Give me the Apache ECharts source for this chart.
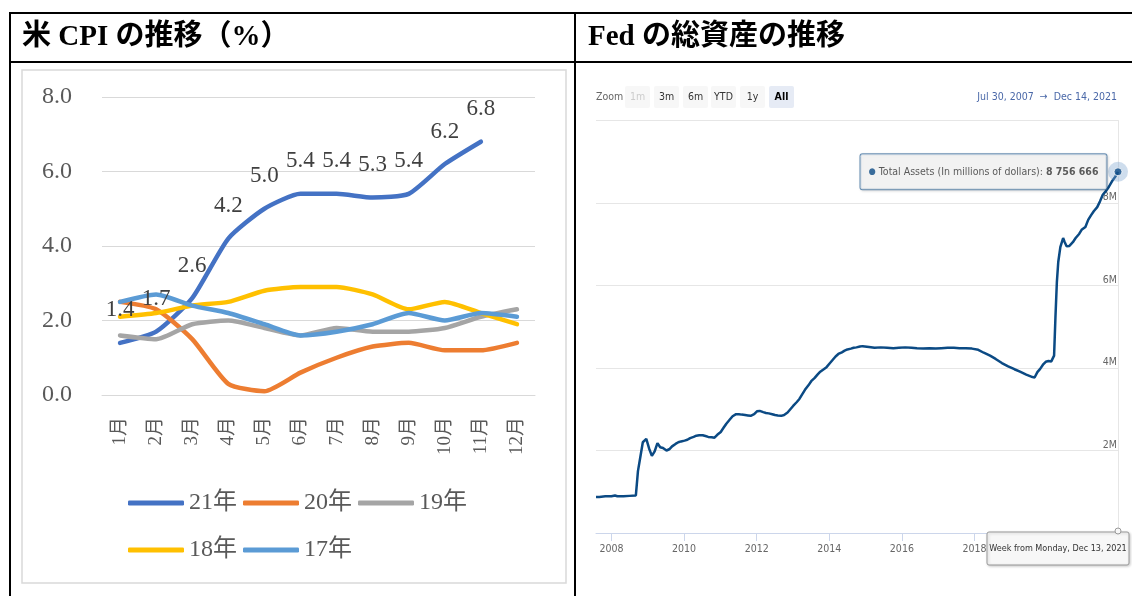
<!DOCTYPE html>
<html>
<head>
<meta charset="utf-8">
<title>米 CPI の推移 / Fed の総資産の推移</title>
<script src="https://cdn.jsdelivr.net/npm/echarts@6/dist/echarts.min.js"></script>
<style>
  html, body { margin: 0; padding: 0; background: #fff; }
  #main { width: 1132px; height: 596px; }
</style>
</head>
<body>
<div id="main"></div>
<script>
// 米 CPI（前年比 %）
var months = ['1月', '2月', '3月', '4月', '5月', '6月', '7月', '8月', '9月', '10月', '11月', '12月'];
var cpi21 = [1.4, 1.7, 2.6, 4.2, 5.0, 5.4, 5.4, 5.3, 5.4, 6.2, 6.8, null];
var cpi20 = [2.5, 2.3, 1.5, 0.3, 0.1, 0.6, 1.0, 1.3, 1.4, 1.2, 1.2, 1.4];
var cpi19 = [1.6, 1.5, 1.9, 2.0, 1.8, 1.6, 1.8, 1.7, 1.7, 1.8, 2.1, 2.3];
var cpi18 = [2.1, 2.2, 2.4, 2.5, 2.8, 2.9, 2.9, 2.7, 2.3, 2.5, 2.2, 1.9];
var cpi17 = [2.5, 2.7, 2.4, 2.2, 1.9, 1.6, 1.7, 1.9, 2.2, 2.0, 2.2, 2.1];

// Fed 総資産（百万ドル）
var fedDates = [
  '2007-07-30', '2007-09-01', '2007-11-01', '2008-01-01', '2008-02-06', '2008-03-01', '2008-05-01', '2008-07-01', '2008-09-03',
  '2008-09-24', '2008-10-15', '2008-11-12', '2008-12-17',
  '2009-01-14', '2009-02-11', '2009-03-11', '2009-04-08', '2009-05-06', '2009-06-03', '2009-07-08', '2009-08-05', '2009-09-02', '2009-10-07', '2009-11-04', '2009-12-02',
  '2010-01-06', '2010-02-03', '2010-03-03', '2010-04-07', '2010-05-05', '2010-06-02', '2010-07-07', '2010-08-04', '2010-09-01', '2010-10-06', '2010-11-03', '2010-12-01',
  '2011-01-05', '2011-02-02', '2011-03-02', '2011-04-06', '2011-05-04', '2011-06-08', '2011-07-06', '2011-08-03', '2011-09-07', '2011-10-05', '2011-11-02', '2011-12-07',
  '2012-01-04', '2012-02-01', '2012-03-07', '2012-04-04', '2012-05-02', '2012-06-06', '2012-07-04', '2012-08-01', '2012-09-05', '2012-10-03', '2012-11-07', '2012-12-05',
  '2013-01-02', '2013-02-06', '2013-03-06', '2013-04-03', '2013-05-01', '2013-06-05', '2013-07-03', '2013-08-07', '2013-09-04', '2013-10-02', '2013-11-06', '2013-12-04',
  '2014-01-08', '2014-02-05', '2014-03-05', '2014-04-02', '2014-05-07', '2014-06-04', '2014-07-02', '2014-08-06', '2014-09-03', '2014-10-01', '2014-11-05', '2014-12-03',
  '2015-02-04', '2015-04-01', '2015-06-03', '2015-08-05', '2015-10-07', '2015-12-02',
  '2016-02-03', '2016-04-06', '2016-06-01', '2016-08-03', '2016-10-05', '2016-12-07',
  '2017-02-01', '2017-04-05', '2017-06-07', '2017-08-02', '2017-10-04', '2017-12-06',
  '2018-02-07', '2018-04-04', '2018-06-06', '2018-08-01', '2018-10-03', '2018-12-05',
  '2019-02-06', '2019-04-03', '2019-06-05', '2019-08-07', '2019-08-28', '2019-09-25', '2019-10-23', '2019-11-20', '2019-12-18',
  '2020-01-15', '2020-02-12', '2020-03-11', '2020-03-25', '2020-04-08', '2020-04-22', '2020-05-13', '2020-06-10', '2020-06-24', '2020-07-15', '2020-08-12', '2020-09-16', '2020-10-14', '2020-11-18', '2020-12-16',
  '2021-01-20', '2021-02-17', '2021-03-17', '2021-04-14', '2021-05-19', '2021-06-16', '2021-07-14', '2021-08-18', '2021-09-15', '2021-10-13', '2021-11-17', '2021-12-14'
];
var fedValues = [
  870000, 875000, 888000, 890000, 910000, 892000, 890000, 900000, 910000,
  1500000, 1800000, 2200000, 2280000,
  2050000, 1870000, 1980000, 2180000, 2080000, 2060000, 2000000, 2030000, 2100000, 2160000, 2200000, 2220000,
  2240000, 2260000, 2300000, 2330000, 2360000, 2370000, 2370000, 2350000, 2330000, 2320000, 2310000, 2380000,
  2450000, 2550000, 2650000, 2750000, 2830000, 2880000, 2880000, 2870000, 2860000, 2850000, 2840000, 2880000,
  2950000, 2960000, 2930000, 2910000, 2900000, 2880000, 2860000, 2850000, 2840000, 2860000, 2920000, 3000000,
  3080000, 3170000, 3250000, 3360000, 3470000, 3580000, 3680000, 3760000, 3840000, 3910000, 3970000, 4020000,
  4120000, 4200000, 4280000, 4340000, 4380000, 4420000, 4450000, 4470000, 4490000, 4500000, 4520000, 4530000,
  4510000, 4490000, 4500000, 4490000, 4480000, 4490000,
  4500000, 4490000, 4480000, 4470000, 4480000, 4470000,
  4480000, 4490000, 4490000, 4480000, 4480000, 4470000,
  4440000, 4370000, 4300000, 4220000, 4120000, 4040000,
  3970000, 3910000, 3840000, 3780000, 3770000, 3900000, 3980000, 4080000, 4150000,
  4170000, 4160000, 4300000, 5250000, 6080000, 6570000, 6930000, 7150000, 7060000, 6950000, 6960000, 7050000, 7150000, 7250000, 7360000,
  7420000, 7590000, 7700000, 7800000, 7900000, 8040000, 8200000, 8300000, 8400000, 8520000, 8640000, 8756666
];
var fedYearTicks = ['2008-01-01', '2010-01-01', '2012-01-01', '2014-01-01', '2016-01-01', '2018-01-01', '2020-01-01'];

function toTime(s) {
  var p = s.split('-');
  return new Date(+p[0], +p[1] - 1, +p[2]).getTime();
}

var fedData = [];
for (var i = 0; i < fedDates.length; i++) {
  fedData.push([toTime(fedDates[i]), fedValues[i]]);
}
var lastPoint = fedData[fedData.length - 1];
var tickTimes = fedYearTicks.map(toTime);

var serif = "'Liberation Serif', 'Noto Sans CJK JP', serif";
var narrow = "'Liberation Sans Narrow', 'DejaVu Sans Condensed', sans-serif";
var grayText = '#595959';

function spaced(v) {
  return String(v).replace(/\B(?=(\d{3})+(?!\d))/g, ' ');
}

function cpiSeries(name, data, color) {
  return {
    name: name,
    type: 'line',
    xAxisIndex: 0,
    yAxisIndex: 0,
    data: data,
    smooth: 0.2,
    showSymbol: false,
    symbol: 'none',
    lineStyle: { color: color, width: 4.5, cap: 'round' },
    itemStyle: { color: color }
  };
}

var s21 = cpiSeries('21年', cpi21, '#4472c4');
s21.symbol = 'circle';
s21.symbolSize = 0;
s21.showSymbol = true;
s21.label = {
  show: true,
  position: 'top',
  distance: 21,
  fontFamily: serif,
  fontSize: 23,
  color: '#404040',
  formatter: function(p) { return p.value == null ? '' : p.value.toFixed(1); }
};

var myChart = echarts.init(document.getElementById('main'));

var buttons = ['1m', '3m', '6m', 'YTD', '1y', 'All'];
var btnX = [625, 654, 683, 711, 740, 769];
var btnEls = [];
for (var b = 0; b < buttons.length; b++) {
  btnEls.push({
    type: 'rect',
    shape: { x: btnX[b], y: 86, width: 25, height: 22, r: 2 },
    style: { fill: buttons[b] == 'All' ? '#e6ebf5' : '#f7f7f7' }
  });
  btnEls.push({
    type: 'text',
    style: {
      x: btnX[b] + 12.5, y: 97, text: buttons[b],
      align: 'center', verticalAlign: 'middle',
      font: (buttons[b] == 'All' ? 'bold ' : '') + '10.5px ' + narrow,
      fill: buttons[b] == '1m' ? '#cccccc' : (buttons[b] == 'All' ? '#000' : '#333')
    }
  });
}

var option = {
  animation: false,
  backgroundColor: '#fff',
  grid: [
    { left: 102, right: 597, top: 97, bottom: 201 },
    { left: 596, right: 14, top: 120.5, bottom: 63 }
  ],
  legend: [
    {
      data: ['21年', '20年', '19年'],
      left: 123, top: 486,
      icon: 'roundRect', itemWidth: 56, itemHeight: 5, itemGap: 6,
      selectedMode: false,
      textStyle: { fontFamily: serif, fontSize: 24, color: grayText }
    },
    {
      data: ['18年', '17年'],
      left: 123, top: 533,
      icon: 'roundRect', itemWidth: 56, itemHeight: 5, itemGap: 6,
      selectedMode: false,
      textStyle: { fontFamily: serif, fontSize: 24, color: grayText }
    }
  ],
  xAxis: [
    {
      type: 'category',
      gridIndex: 0,
      data: months,
      boundaryGap: true,
      axisLine: { lineStyle: { color: '#d9d9d9', width: 1 } },
      axisTick: { show: false },
      axisLabel: { rotate: 90, margin: 22, fontFamily: serif, fontSize: 19, color: grayText }
    },
    {
      type: 'value',
      gridIndex: 1,
      min: toTime('2007-07-30'),
      max: toTime('2021-12-14'),
      axisLine: { lineStyle: { color: '#ccd6eb', width: 1 } },
      axisTick: { show: true, customValues: tickTimes, length: 8, lineStyle: { color: '#ccd6eb' } },
      axisLabel: {
        customValues: tickTimes,
        margin: 11,
        fontFamily: narrow, fontSize: 10.5, color: '#666',
        formatter: function(v) { return String(new Date(v).getFullYear()); }
      },
      splitLine: { show: false }
    }
  ],
  yAxis: [
    {
      type: 'value',
      gridIndex: 0,
      min: 0, max: 8, interval: 2,
      axisLine: { show: false },
      axisTick: { show: false },
      axisLabel: {
        margin: 30, fontFamily: serif, fontSize: 24, color: grayText,
        formatter: function(v) { return v.toFixed(1); }
      },
      splitLine: { lineStyle: { color: '#d9d9d9', width: 1 } }
    },
    {
      type: 'value',
      gridIndex: 1,
      position: 'right',
      min: 0, max: 10000000, interval: 2000000,
      axisLine: { show: true, lineStyle: { color: '#e6e6e6' } },
      axisTick: { show: false },
      axisLabel: {
        inside: true, margin: 1, verticalAlign: 'bottom',
        fontFamily: narrow, fontSize: 10.5, color: '#666',
        formatter: function(v) { return (v == 0 || v == 10000000) ? '' : (v / 1000000) + 'M'; }
      },
      splitLine: { lineStyle: { color: '#e6e6e6', width: 1 } }
    }
  ],
  series: [
    s21,
    cpiSeries('20年', cpi20, '#ed7d31'),
    cpiSeries('19年', cpi19, '#a5a5a5'),
    cpiSeries('18年', cpi18, '#ffc000'),
    cpiSeries('17年', cpi17, '#5b9bd5'),
    {
      name: 'Total Assets',
      type: 'line',
      xAxisIndex: 1,
      yAxisIndex: 1,
      data: fedData,
      showSymbol: false,
      lineStyle: { color: '#0b4a84', width: 2.5 },
      itemStyle: { color: '#0b4a84' }
    },
    {
      type: 'scatter',
      xAxisIndex: 1,
      yAxisIndex: 1,
      data: [lastPoint],
      symbolSize: 20,
      itemStyle: { color: 'rgba(120,160,205,0.45)' },
      z: 5
    },
    {
      type: 'scatter',
      xAxisIndex: 1,
      yAxisIndex: 1,
      data: [lastPoint],
      symbolSize: 8,
      itemStyle: { color: '#0b4a84', borderColor: '#fff', borderWidth: 1 },
      z: 6,
      label: {
        show: true,
        position: 'left',
        distance: 7,
        backgroundColor: 'rgba(247,247,247,0.92)',
        borderColor: '#4a79a6',
        borderWidth: 1,
        borderRadius: 2,
        padding: [10, 8, 10, 8],
        shadowColor: 'rgba(0,0,0,0.15)',
        shadowBlur: 3,
        shadowOffsetX: 1,
        shadowOffsetY: 1,
        formatter: function(p) {
          return '{d|●} {t|Total Assets (In millions of dollars): }{b|' + spaced(p.value[1]) + '}';
        },
        rich: {
          d: { color: '#0b4a84', fontSize: 9, fontFamily: narrow },
          t: { color: '#333', fontSize: 10.5, fontFamily: narrow, lineHeight: 15 },
          b: { color: '#333', fontSize: 10.5, fontFamily: narrow, fontWeight: 'bold', lineHeight: 15 }
        }
      }
    }
  ],
  graphic: [
    // 表の罫線
    { type: 'line', shape: { x1: 10, y1: 13, x2: 1132, y2: 13 }, style: { stroke: '#000', lineWidth: 2 } },
    { type: 'line', shape: { x1: 10, y1: 62, x2: 1132, y2: 62 }, style: { stroke: '#000', lineWidth: 2 } },
    { type: 'line', shape: { x1: 10, y1: 12, x2: 10, y2: 596 }, style: { stroke: '#000', lineWidth: 2 } },
    { type: 'line', shape: { x1: 575, y1: 12, x2: 575, y2: 596 }, style: { stroke: '#000', lineWidth: 2 } },
    // 見出し
    {
      type: 'text',
      style: { x: 22, y: 38, text: '米 CPI の推移（%）', verticalAlign: 'middle', font: 'bold 29px ' + serif, fill: '#000' }
    },
    {
      type: 'text',
      style: { x: 588, y: 38, text: 'Fed の総資産の推移', verticalAlign: 'middle', font: 'bold 29px ' + serif, fill: '#000' }
    },
    // 左のグラフ枠
    {
      type: 'rect', z: -1,
      shape: { x: 22, y: 70, width: 544, height: 513 },
      style: { fill: 'none', stroke: '#d9d9d9', lineWidth: 1.5 }
    },
    // 右上のズームボタン
    {
      type: 'text',
      style: { x: 596, y: 97, text: 'Zoom', verticalAlign: 'middle', font: '10.5px ' + narrow, fill: '#666' }
    },
    { type: 'group', children: btnEls },
    {
      type: 'text',
      style: {
        x: 1117, y: 97, text: 'Jul 30, 2007  \u2192  Dec 14, 2021', align: 'right', verticalAlign: 'middle',
        font: '10.5px ' + narrow, fill: '#4a68a8'
      }
    },
    // 下の日付ラベル
    {
      type: 'rect', z: 100, zlevel: 1,
      shape: { x: 987, y: 532, width: 142, height: 33, r: 2 },
      style: {
        fill: '#f7f7f7', stroke: '#999', lineWidth: 1,
        shadowColor: 'rgba(0,0,0,0.2)', shadowBlur: 3, shadowOffsetX: 1, shadowOffsetY: 1
      }
    },
    {
      type: 'text', z: 101, zlevel: 1,
      style: {
        x: 1058, y: 548.5, text: 'Week from Monday, Dec 13, 2021', align: 'center', verticalAlign: 'middle',
        font: '9px ' + narrow, fill: '#333'
      }
    },
    {
      type: 'circle', z: 102, zlevel: 1,
      shape: { cx: 1118, cy: 531, r: 3 },
      style: { fill: '#f7f7f7', stroke: '#999', lineWidth: 1 }
    }
  ]
};

myChart.setOption(option);
window.onresize = function() {
  myChart.resize();
};
</script>
</body>
</html>
